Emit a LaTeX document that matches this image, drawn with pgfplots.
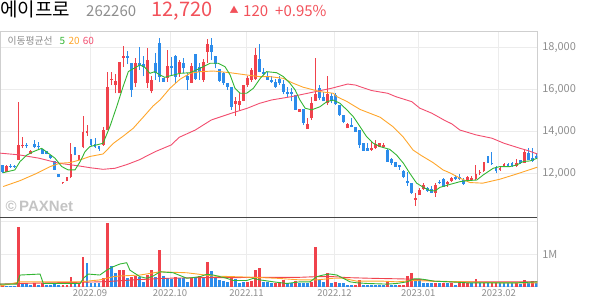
\documentclass[border=0pt]{standalone}
\usepackage{fontspec}
\setmainfont{Noto Sans CJK KR}
\newfontfamily\wmfont{Liberation Sans}
\usepackage{pgfplots}
\usepackage{pgfplotstable}
\pgfplotsset{compat=1.18}
\definecolor{cred}{HTML}{F0424C}
\definecolor{cblue}{HTML}{2C8CEB}
\definecolor{cgreen}{HTML}{33B533}
\definecolor{corange}{HTML}{FFA62B}
\definecolor{cpink}{HTML}{F24D6E}
\definecolor{tred}{HTML}{F2515A}
\definecolor{txtgray}{HTML}{8E8E8E}
\definecolor{gridc}{HTML}{ECECEC}
\definecolor{framec}{HTML}{CFCFCF}
\definecolor{sepc}{HTML}{444444}
\definecolor{wmc}{HTML}{C4C4C4}

\pgfplotstableread{
i O H L C
0 12400 12400 12000 12080
1 12080 12400 12050 12350
2 12350 12450 12250 12300
3 12350 12400 12260 12290
4 12640 15400 12640 13350
5 13280 13750 13200 13350
6 13330 13430 13200 13280
7 12920 13100 12900 13080
8 13400 13590 13200 13270
9 13300 13500 13150 13250
10 13140 13140 12900 12920
11 13080 13080 12900 12920
12 12870 12870 12680 12710
13 12600 12600 12150 12160
14 11970 11970 11800 11810
15 11530 11600 11500 11600
16 11650 11840 11620 11840
17 11840 13430 11760 12920
18 13270 13270 12870 12870
19 12640 12870 12640 12870
20 13240 14730 13190 13985
21 13900 14300 13780 14000
22 13620 13620 13300 13350
23 13400 13700 13200 13250
24 13300 13300 13050 13150
25 13350 14200 13300 14060
26 14060 16840 14060 16130
27 16450 16840 16200 16500
28 16200 16750 15800 16400
29 15800 17300 15800 17300
30 17500 18060 17050 17600
31 17600 17820 17200 17500
32 17270 17270 15650 15970
33 16290 17480 16130 17270
34 17240 18000 16920 17140
35 17200 17600 16610 17080
36 16290 17950 16050 17400
37 15900 16610 15800 16450
38 17270 17710 16450 16760
39 18220 18430 16370 16600
40 16550 16550 16370 16370
41 16550 17870 16370 17110
42 17110 17550 16680 17030
43 17580 17630 16290 16600
44 16760 17400 16600 17320
45 17240 17480 16760 17000
46 16610 16760 15970 16450
47 16320 17270 16290 17110
48 17680 17680 16450 16480
49 17080 17240 16450 16840
50 16450 17430 16370 17290
51 17790 18380 17270 18160
52 18110 18430 17390 17790
53 17590 17590 17000 17200
54 16950 16950 16370 16410
55 16760 16840 16210 16290
56 16290 16290 15970 16100
57 16100 16100 15020 15180
58 15300 15650 14730 15460
59 15250 15810 14970 15460
60 15460 16200 15420 16200
61 16200 16610 16130 16530
62 16450 17000 16370 16920
63 16480 17950 16450 17630
64 17430 18160 16800 16840
65 16840 17000 16680 16710
66 16610 16840 16450 16450
67 16450 16610 16320 16370
68 16370 16480 16050 16100
69 16480 16610 16210 16290
70 16250 16450 15760 15890
71 15890 16130 15650 15780
72 15890 16050 15420 15780
73 15730 15730 15020 15020
74 14940 15050 14940 15050
75 15050 15050 14300 14410
76 14100 14620 14100 14350
77 14620 15650 14530 15330
78 15460 17480 15420 15780
79 16050 16210 15490 15570
80 15650 15890 15420 15420
81 15330 16640 15250 15780
82 15700 15810 15330 15420
83 15730 15810 15250 15300
84 15250 15250 14730 14780
85 14780 14780 14380 14460
86 14140 14380 14140 14350
87 14300 14620 14190 14220
88 14220 14220 13980 13980
89 14060 14060 13190 13350
90 13430 13430 13080 13080
91 13190 13430 13080 13080
92 13110 13520 13080 13190
93 13190 13590 13150 13380
94 13270 13460 13240 13430
95 13240 13460 13190 13350
96 13110 13140 12560 12560
97 12670 12720 12400 12510
98 12560 12560 12290 12320
99 12400 12400 12160 12290
100 12130 12160 11760 11840
101 11650 12080 11400 11560
102 11560 11560 11020 11050
103 10730 11050 10450 10810
104 10970 11290 10970 11210
105 11240 11520 11210 11440
106 11290 11370 11130 11180
107 11240 11400 11050 11080
108 11050 11560 10890 11440
109 11600 11680 11490 11520
110 11720 11760 11370 11370
111 11490 11650 11370 11600
112 11650 11810 11600 11760
113 11810 11920 11680 11720
114 11840 11970 11680 11730
115 11680 11760 11440 11490
116 11680 11860 11630 11810
117 11680 11860 11630 11760
118 11720 12400 11680 11950
119 12000 12160 11920 12080
120 12130 12560 12080 12520
121 12830 12830 12480 12510
122 12510 13030 12400 12450
123 12290 12350 12030 12130
124 12160 12320 12130 12240
125 12320 12480 12290 12450
126 12420 12510 12320 12350
127 12510 12560 12320 12350
128 12350 12660 12320 12510
129 12610 12640 12450 12510
130 12510 13140 12480 13030
131 12990 13190 12610 12640
132 12720 13220 12560 12600
133 12830 12990 12700 12720
}\candles

\begin{document}
\begin{tikzpicture}
\useasboundingbox (0pt,0pt) rectangle (594pt,304pt);

% ---------- price panel ----------
\begin{axis}[
  at={(0pt,86.7pt)}, anchor=south west, scale only axis,
  width=537.3pt, height=186.3pt,
  xmin=-0.70, xmax=133.3, ymin=9905, ymax=18776,
  axis line style={draw=framec, line width=0.8pt},
  xtick={21.75,41.7,60.8,82.7,103.6,123.7}, xticklabels={},
  ytick={12000,14000,16000,18000},
  xmajorgrids, ymajorgrids,
  major grid style={draw=gridc, line width=0.9pt},
  major tick length=0pt,
  yticklabel pos=right,
  yticklabel style={font=\fontsize{11}{11}\selectfont, text=txtgray, anchor=west, xshift=1.5pt},
  scaled y ticks=false,
  /pgf/number format/1000 sep={,},
  /pgf/number format/assume math mode=true,
]
% wicks
\addplot[forget plot, draw=none, mark=none,
  x filter/.expression={\thisrow{C}>=\thisrow{O} ? x : nan},
  error bars/.cd, y dir=plus, y explicit, error mark=none,
  error bar style={draw=cred, line width=1pt}]
  table[x=i, y=L, y error plus expr=\thisrow{H}-\thisrow{L}] {\candles};
\addplot[forget plot, draw=none, mark=none,
  x filter/.expression={\thisrow{C}<\thisrow{O} ? x : nan},
  error bars/.cd, y dir=plus, y explicit, error mark=none,
  error bar style={draw=cblue, line width=1pt}]
  table[x=i, y=L, y error plus expr=\thisrow{H}-\thisrow{L}] {\candles};
% bodies
\addplot[forget plot, draw=none, mark=none,
  x filter/.expression={\thisrow{C}>=\thisrow{O} ? x : nan},
  error bars/.cd, y dir=plus, y explicit, error mark=none,
  error bar style={draw=cred, line width=2.9pt}]
  table[x=i, y expr={min(\thisrow{O},\thisrow{C})}, y error plus expr={max(abs(\thisrow{C}-\thisrow{O}),45)}] {\candles};
\addplot[forget plot, draw=none, mark=none,
  x filter/.expression={\thisrow{C}<\thisrow{O} ? x : nan},
  error bars/.cd, y dir=plus, y explicit, error mark=none,
  error bar style={draw=cblue, line width=2.9pt}]
  table[x=i, y expr={min(\thisrow{O},\thisrow{C})}, y error plus expr={max(abs(\thisrow{C}-\thisrow{O}),45)}] {\candles};
% MA60
\addplot[cpink, line width=0.9pt, mark=none] coordinates {
(-0.7,12960)(4,12880)(9,12720)(14,12480)(19,12350)(22,12260)(25,12190)(28,12240)(31,12420)(34,12640)(38,13030)(42,13350)(44,13715)(48,14060)(52,14540)(57,14860)(61,15100)(64,15330)(67,15490)(72,15650)(78,15890)(82,16050)(86,16250)(88,16200)(89,16130)(92,15940)(96,15810)(98,15650)(102,15410)(104,15100)(107,14860)(110,14540)(112,14350)(114,14060)(118,13830)(122,13670)(125,13430)(129,13190)(131,13080)(133.3,12920)};
% MA20
\addplot[corange, line width=0.9pt, mark=none] coordinates {
(0.1,11370)(4.3,11650)(8.5,12000)(11.8,12320)(14.3,12480)(16.8,12510)(19.3,12640)(21.7,12800)(25,12920)(27.6,13430)(30.1,13780)(32.5,14140)(35,14670)(37.5,15210)(39.2,15490)(41.7,16050)(44.2,16480)(46.7,16760)(49.2,16840)(52.5,16870)(56.7,16790)(60.9,16680)(64.2,16600)(66.7,16600)(70,16520)(72.4,16290)(74.9,16100)(79.1,15890)(82.4,15810)(83.3,15650)(85.8,15420)(89.1,15040)(94.1,14670)(97.3,14220)(99.8,13745)(102.3,13110)(104.5,12830)(107.3,12510)(109.8,12160)(111.5,12020)(114,11770)(116.5,11560)(119.7,11530)(124,11720)(128.2,11970)(133.3,12290)};
% MA5
\addplot[cgreen, line width=0.9pt, mark=none] coordinates {
(0.1,12030)(3.0,12160)(4.3,12560)(6.0,12870)(7.6,13030)(9.7,13190)(13.0,12720)(14.7,12320)(16.3,12160)(18.0,12160)(19.3,12560)(20.5,13030)(21.7,13270)(25.0,13430)(26.7,14220)(28.4,15170)(30.0,16130)(31.3,16840)(31.7,16890)(34.2,17160)(35.4,17050)(36.7,16760)(37.9,16840)(39.2,16680)(40.4,16570)(41.7,16640)(44.2,16760)(46.7,16790)(49.2,17000)(51.7,17240)(53.7,17240)(55.4,17080)(56.7,16680)(57.9,16050)(59.2,15810)(60.8,15810)(62.5,16050)(64.2,16520)(65.8,16840)(68.3,16790)(70.0,16600)(71.6,16290)(72.9,15970)(74.1,15490)(75.4,15100)(77.0,15020)(79.1,15170)(80.8,15410)(82.4,15490)(84.1,15330)(85.8,15020)(87.4,14700)(89.1,14220)(90.7,13750)(92.4,13430)(94.1,13270)(96.5,13140)(98.2,12870)(99.9,12480)(101.5,12000)(103.2,11530)(104.9,11330)(106.5,11180)(107.8,11160)(109.0,11330)(110.3,11400)(111.5,11470)(114.0,11600)(115.7,11650)(118.2,11680)(119.8,11920)(122.3,12240)(124.0,12320)(126.5,12320)(128.2,12400)(129.8,12560)(131.5,12590)(133.3,12720)};
\end{axis}

% ---------- volume panel ----------
\begin{axis}[
  at={(0pt,17.3pt)}, anchor=south west, scale only axis,
  width=537.3pt, height=69.4pt,
  xmin=-0.70, xmax=133.3, ymin=0, ymax=2.142,
  axis line style={draw=framec, line width=0.8pt},
  xtick={21.75,41.7,60.8,82.7,103.6,123.7},
  xticklabels={2022.09,2022.10,2022.11,2022.12,2023.01,2023.02},
  xticklabel style={font=\fontsize{9.5}{9.5}\selectfont, text=txtgray, anchor=center, yshift=-6.3pt},
  ytick={1,2}, yticklabels={1M,},
  xmajorgrids, ymajorgrids,
  major grid style={draw=gridc, line width=0.9pt},
  major tick length=0pt,
  yticklabel pos=right,
  yticklabel style={font=\fontsize{11}{11}\selectfont, text=txtgray, anchor=west, xshift=1.5pt},
]
\addplot[ycomb, draw=cred, line width=2.9pt, mark=none] coordinates {
(0,.05)(4,1.85)(8,.10)(10,.10)(15,.05)(16,.05)(17,.31)(19,.12)(20,.93)(25,.26)(26,1.98)(29,.53)(30,.53)(32,.31)(33,.33)(36,.36)(37,.51)(39,1.13)(43,.31)(47,.26)(49,.33)(51,.77)(57,.26)(61,.15)(62,.19)(63,.51)(64,.59)(68,.10)(69,.15)(70,.21)(73,.19)(77,.15)(78,1.23)(81,.43)(83,.15)(88,.05)(89,.21)(96,.15)(99,.05)(100,.05)(101,.33)(102,.43)(108,.10)(110,.10)(112,.10)(114,.10)(115,.10)(116,.10)(118,.24)(120,.10)(122,.12)(123,.15)(128,.10)(130,.21)(132,.17)};
\addplot[ycomb, draw=cblue, line width=2.9pt, mark=none] coordinates {
(1,.02)(2,.02)(3,.02)(5,.10)(6,.10)(7,.05)(9,.05)(11,.05)(12,.05)(13,.10)(14,.05)(18,.10)(21,.72)(22,.10)(23,.12)(24,.12)(27,.64)(28,.41)(31,.26)(34,.31)(35,.15)(38,.31)(40,.33)(41,.26)(42,.23)(44,.26)(45,.26)(46,.15)(48,.31)(50,.26)(52,.48)(53,.26)(54,.21)(55,.17)(56,.15)(58,.23)(59,.12)(60,.15)(65,.15)(66,.15)(67,.10)(71,.10)(72,.10)(74,.10)(75,.10)(76,.10)(79,.21)(80,.15)(82,.10)(84,.12)(85,.12)(86,.05)(87,.05)(90,.05)(91,.05)(92,.05)(93,.05)(94,.05)(95,.05)(97,.05)(98,.05)(103,.24)(104,.24)(105,.12)(106,.10)(107,.10)(109,.10)(111,.10)(113,.05)(117,.10)(119,.10)(121,.12)(124,.10)(125,.10)(126,.10)(127,.10)(129,.08)(131,.12)(133,.10)};
% volume MA60
\addplot[cred, line width=0.9pt, mark=none] coordinates {
(-0.7,.08)(4.3,.10)(24.2,.15)(27.6,.17)(32.5,.21)(40.8,.26)(49.2,.28)(57.5,.28)(65.8,.29)(74.1,.29)(78.3,.31)(82.4,.31)(86,.28)(91.6,.26)(99.9,.24)(104.1,.22)(107.5,.17)(111.6,.15)(124.1,.15)(133.3,.15)};
% volume MA20
\addplot[corange, line width=0.9pt, mark=none] coordinates {
(-0.7,.02)(4.3,.15)(19.3,.15)(24.2,.21)(27.6,.31)(29.2,.33)(34.2,.36)(39.2,.46)(45.9,.43)(52.5,.33)(57.5,.31)(62.5,.29)(68.3,.26)(74.1,.21)(78.3,.21)(82.4,.26)(84.9,.26)(88.3,.17)(95,.17)(98.3,.15)(102.5,.19)(107.5,.17)(115.8,.15)(124.1,.12)(133.3,.12)};
% volume MA5
\addplot[cgreen, line width=0.9pt, mark=none] coordinates {
(-0.7,.08)(3.5,.08)(4.3,.36)(9.3,.39)(10.1,.10)(19.3,.10)(20.1,.26)(21.3,.39)(24.2,.36)(25.9,.51)(27.6,.62)(29.2,.70)(30.9,.74)(31.7,.51)(34.2,.31)(35.9,.26)(37.5,.33)(39.2,.46)(42.5,.43)(45.9,.26)(49.2,.31)(50.8,.38)(52.5,.36)(55.8,.26)(57.5,.19)(60.8,.19)(62.5,.26)(64.1,.21)(67.5,.15)(70.8,.10)(74.1,.15)(76.6,.15)(78.3,.31)(79.9,.36)(81.6,.39)(83.3,.36)(84.9,.26)(86.6,.15)(88.3,.12)(90.8,.10)(95.8,.08)(98.3,.10)(100.8,.15)(102.5,.24)(104.1,.24)(105.8,.21)(107.5,.17)(111.6,.15)(115.8,.12)(124.1,.12)(128.3,.12)(133.3,.15)};
\end{axis}

% separator between panels
\draw[sepc, line width=1.3pt] (0pt,86.7pt) -- (537.3pt,86.7pt);

% ---------- texts ----------
\node[anchor=base west, inner sep=0pt, font=\fontsize{19}{19}\selectfont] at (0pt,287pt) {에이프로};
\node[anchor=base west, inner sep=0pt, font=\fontsize{15}{15}\selectfont, text=txtgray] at (86pt,287.5pt) {262260};
\node[anchor=base west, inner sep=0pt, font=\fontsize{20}{20}\selectfont, text=tred] at (151.5pt,287.7pt) {12,720};
\node[anchor=base west, inner sep=0pt, font=\fontsize{9}{9}\selectfont, text=tred] at (229.5pt,290pt) {▲};
\node[anchor=base west, inner sep=0pt, font=\fontsize{15}{15}\selectfont, text=tred] at (243pt,287.5pt) {120};
\node[anchor=base west, inner sep=0pt, font=\fontsize{15}{15}\selectfont, text=tred] at (275pt,287.5pt) {+0.95\%};

\node[anchor=west, inner sep=0pt, font=\fontsize{9.8}{9.8}\selectfont, text=txtgray] at (7.3pt,263pt) {이동평균선};
\node[anchor=west, inner sep=0pt, font=\fontsize{10}{10}\selectfont, text=cgreen] at (59.3pt,263pt) {5};
\node[anchor=west, inner sep=0pt, font=\fontsize{10}{10}\selectfont, text=corange] at (68.3pt,263pt) {20};
\node[anchor=west, inner sep=0pt, font=\fontsize{10}{10}\selectfont, text=cpink] at (82.7pt,263pt) {60};

\node[anchor=west, inner sep=0pt, font=\wmfont\bfseries\fontsize{15}{15}\selectfont, text=wmc] at (5.5pt,97.5pt) {©\,PAXNet};
\end{tikzpicture}
\end{document}
